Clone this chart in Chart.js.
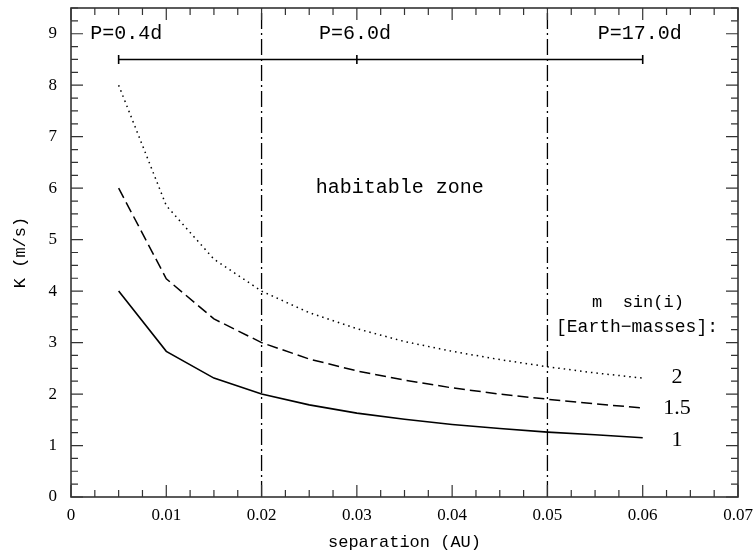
<!DOCTYPE html>
<html>
<head>
<meta charset="utf-8">
<script src="https://cdn.jsdelivr.net/npm/chart.js@4.4.1/dist/chart.umd.min.js"></script>
<style>
html, body { margin: 0; padding: 0; background: #fff; }
</style>
</head>
<body>
<canvas id="chart" width="756" height="553"></canvas>
<script>
// separation in AU and the semi-amplitude K (m/s) for each planet mass
const separation = [0.005, 0.01, 0.015, 0.02, 0.025, 0.03, 0.035, 0.04, 0.045, 0.05, 0.055, 0.06];
const kMass1   = [4.00, 2.83, 2.31, 2.00, 1.79, 1.63, 1.51, 1.41, 1.33, 1.26, 1.21, 1.15];
const kMass1_5 = [6.00, 4.24, 3.46, 3.00, 2.68, 2.45, 2.27, 2.12, 2.00, 1.90, 1.81, 1.73];
const kMass2   = [8.00, 5.66, 4.62, 4.00, 3.58, 3.27, 3.02, 2.83, 2.67, 2.53, 2.41, 2.31];

// habitable zone edges (AU)
const habitableEdges = [0.02, 0.05];

// orbital period bar
const periodLevel = 8.5;
const periodMarks = [0.005, 0.03, 0.06];
const periodLabels = ['P=0.4d', 'P=6.0d', 'P=17.0d'];
const periodLabelX = [0.0058, 0.0298, 0.0597];
const periodLabelY = 9.0;

const massLabels = ['2', '1.5', '1'];
const massLabelX = 0.0636;
const massLabelY = [2.32, 1.73, 1.11];

const xMin = 0, xMax = 0.07, yMin = 0, yMax = 9.5;

function pts(xs, ys) {
    return xs.map((x, i) => ({x: x, y: ys[i]}));
}

let datasets = [];
// vertical dash-dot lines
for (const edge of habitableEdges) {
    datasets.push({
        data: [{x: edge, y: yMin}, {x: edge, y: yMax}],
        borderColor: '#000', borderWidth: 1.3, borderDash: [16, 4, 2, 4],
        pointRadius: 0
    });
}
// period bar with small ticks
datasets.push({
    data: periodMarks.map(x => ({x: x, y: periodLevel})),
    borderColor: '#000', borderWidth: 1.6,
    pointStyle: 'line', rotation: 90, pointRadius: 4.5,
    pointBorderColor: '#000', pointBorderWidth: 1.6
});
datasets.push({
    data: pts(separation, kMass2),
    borderColor: '#000', borderWidth: 1.5, borderDash: [1.5, 4],
    pointRadius: 0
});
datasets.push({
    data: pts(separation, kMass1_5),
    borderColor: '#000', borderWidth: 1.5, borderDash: [11, 5],
    pointRadius: 0
});
datasets.push({
    data: pts(separation, kMass1),
    borderColor: '#000', borderWidth: 1.6,
    pointRadius: 0
});

// text placed in data coordinates
let annotations = [];
periodLabels.forEach((t, i) => annotations.push({text: t, x: periodLabelX[i], y: periodLabelY, font: '20px "Liberation Mono"'}));
annotations.push({text: 'habitable zone', x: 0.0345, y: 6.0, font: '20px "Liberation Mono"'});
annotations.push({text: 'm  sin(i)', x: 0.0595, y: 3.77, font: '17px "Liberation Mono"'});
annotations.push({text: '[Earth\u2212masses]:', x: 0.0594, y: 3.29, font: '18px "Liberation Mono"'});
massLabels.forEach((t, i) => annotations.push({text: t, x: massLabelX, y: massLabelY[i], font: '22px "Liberation Serif"'}));

// PGPLOT style box: ticks pointing inside on all four sides
const framePlugin = {
    id: 'frame',
    afterDraw(chart) {
        const ctx = chart.ctx;
        const a = chart.chartArea;
        const xs = chart.scales.x, ys = chart.scales.y;
        ctx.save();
        ctx.strokeStyle = '#333';
        ctx.lineWidth = 1.6;
        ctx.strokeRect(a.left, a.top, a.right - a.left, a.bottom - a.top);
        ctx.lineWidth = 1.2;
        ctx.beginPath();
        for (let i = 0; i <= 28; i++) {
            let v = i * 0.0025;
            let px = xs.getPixelForValue(v);
            let len = (i % 4 === 0) ? 12 : 7;
            ctx.moveTo(px, a.bottom); ctx.lineTo(px, a.bottom - len);
            ctx.moveTo(px, a.top); ctx.lineTo(px, a.top + len);
        }
        for (let i = 0; i <= 38; i++) {
            let v = i * 0.25;
            let py = ys.getPixelForValue(v);
            let len = (i % 4 === 0) ? 12 : 7;
            ctx.moveTo(a.left, py); ctx.lineTo(a.left + len, py);
            ctx.moveTo(a.right, py); ctx.lineTo(a.right - len, py);
        }
        ctx.stroke();

        ctx.fillStyle = '#000';
        ctx.textAlign = 'center';
        ctx.textBaseline = 'middle';
        for (const an of annotations) {
            ctx.font = an.font;
            ctx.fillText(an.text, xs.getPixelForValue(an.x), ys.getPixelForValue(an.y));
        }
        ctx.restore();
    }
};

new Chart(document.getElementById('chart'), {
    type: 'line',
    data: {datasets: datasets},
    options: {
        responsive: false,
        animation: false,
        layout: {padding: {top: 8, right: 18, left: 0, bottom: 0}},
        elements: {line: {tension: 0, fill: false}},
        plugins: {legend: {display: false}, tooltip: {enabled: false}},
        scales: {
            x: {
                type: 'linear', min: xMin, max: xMax,
                grid: {display: false, drawTicks: false},
                border: {display: false},
                ticks: {
                    stepSize: 0.01, autoSkip: false, maxRotation: 0, padding: 8,
                    color: '#000', font: {family: 'Liberation Serif', size: 17},
                    callback: v => v === 0 ? '0' : v.toFixed(2)
                },
                title: {display: true, text: 'separation (AU)', color: '#000',
                        font: {family: 'Liberation Mono', size: 17}, padding: {top: 4, bottom: 0}},
                afterFit: s => { s.height = 56; s.paddingLeft = 0; s.paddingRight = 0; }
            },
            y: {
                type: 'linear', min: yMin, max: yMax,
                grid: {display: false, drawTicks: false},
                border: {display: false},
                afterBuildTicks: s => { s.ticks = s.ticks.filter(t => Number.isInteger(t.value)); },
                ticks: {
                    stepSize: 1, padding: 14,
                    color: '#000', font: {family: 'Liberation Serif', size: 17}
                },
                title: {display: true, text: 'K (m/s)', color: '#000',
                        font: {family: 'Liberation Mono', size: 17}, padding: {top: 10, bottom: 4}},
                afterFit: s => { s.width = 71; s.paddingTop = 0; s.paddingBottom = 0; }
            }
        }
    },
    plugins: [framePlugin]
});
</script>
</body>
</html>
